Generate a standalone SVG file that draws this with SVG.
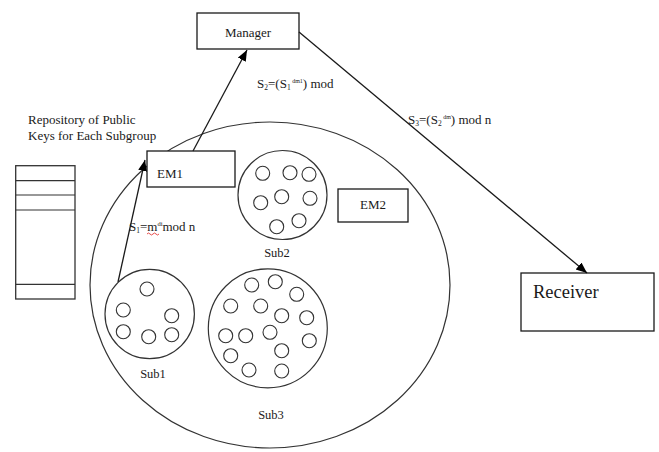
<svg xmlns="http://www.w3.org/2000/svg" width="659" height="452" viewBox="0 0 659 452">
<style>
.t{font-family:'Liberation Serif','DejaVu Serif','Times New Roman',serif;fill:#1a1a1a;}
.box{fill:#fff;stroke:#1a1a1a;stroke-width:1.3;}
.grp{fill:none;stroke:#333;stroke-width:1.2;}
.m{fill:none;stroke:#333;stroke-width:1.1;}
.ln{fill:none;stroke:#1a1a1a;stroke-width:1.3;}
</style>
<defs>
<marker id="ah" markerUnits="userSpaceOnUse" markerWidth="12" markerHeight="10" refX="11" refY="4.5" orient="auto">
<path d="M0,0 L11,4.5 L0,9 z" fill="#000"/>
</marker>
</defs>
<rect width="659" height="452" fill="#fff"/>

<g id="group-ellipse">
<ellipse class="grp" cx="270" cy="285" rx="180" ry="163"/>
</g>

<g id="repository">
<text class="t" font-family="Liberation Serif, serif" x="28" y="124" font-size="13">Repository of Public</text>
<text class="t" font-family="Liberation Serif, serif" x="28" y="140" font-size="13">Keys for Each Subgroup</text>
<rect x="15.7" y="165.7" width="59.3" height="133.3" fill="none" stroke="#333" stroke-width="1.3"/>
<line x1="15.7" y1="180.7" x2="75" y2="180.7" stroke="#333" stroke-width="1.2"/>
<line x1="15.7" y1="195" x2="75" y2="195" stroke="#333" stroke-width="1.2"/>
<line x1="15.7" y1="210" x2="75" y2="210" stroke="#333" stroke-width="1.2"/>
<line x1="15.7" y1="284.3" x2="75" y2="284.3" stroke="#333" stroke-width="1.2"/>
</g>

<g id="manager">
<rect class="box" x="197" y="13" width="102" height="36"/>
<text class="t" font-family="Liberation Serif, serif" x="248" y="37" font-size="13" text-anchor="middle">Manager</text>
</g>

<g id="em1">
<rect class="box" x="147" y="151" width="88" height="36"/>
<text class="t" font-family="Liberation Serif, serif" x="157" y="178" font-size="13">EM1</text>
</g>

<g id="em2">
<rect class="box" x="338" y="189" width="70" height="33"/>
<text class="t" font-family="Liberation Serif, serif" x="373" y="209" font-size="13" text-anchor="middle">EM2</text>
</g>

<g id="receiver">
<rect class="box" x="521" y="273" width="133" height="58"/>
<text class="t" font-family="Liberation Serif, serif" x="533" y="298" font-size="18.5">Receiver</text>
</g>

<g id="sub2">
<circle class="grp" cx="282.5" cy="195" r="44.5"/>
<circle class="m" cx="262.7" cy="173.3" r="7"/>
<circle class="m" cx="290" cy="172.7" r="7"/>
<circle class="m" cx="309" cy="174.3" r="7"/>
<circle class="m" cx="260.7" cy="202.7" r="7"/>
<circle class="m" cx="281.7" cy="196.7" r="7"/>
<circle class="m" cx="310" cy="198.3" r="7"/>
<circle class="m" cx="276.7" cy="226.7" r="7"/>
<circle class="m" cx="299" cy="220.7" r="7"/>
<text class="t" font-family="Liberation Serif, serif" x="277" y="257" font-size="12.5" text-anchor="middle">Sub2</text>
</g>

<g id="sub1">
<circle class="grp" cx="149.7" cy="314" r="44.7"/>
<circle class="m" cx="147" cy="289" r="7"/>
<circle class="m" cx="123.3" cy="310" r="7"/>
<circle class="m" cx="171.7" cy="315.7" r="7"/>
<circle class="m" cx="123.3" cy="331.7" r="7"/>
<circle class="m" cx="148.7" cy="336.7" r="7"/>
<circle class="m" cx="171.7" cy="334.7" r="7"/>
<text class="t" font-family="Liberation Serif, serif" x="153" y="378" font-size="12.5" text-anchor="middle">Sub1</text>
</g>

<g id="sub3">
<circle class="grp" cx="267.8" cy="328.3" r="59.5"/>
<circle class="m" cx="251.7" cy="285" r="7"/>
<circle class="m" cx="275.3" cy="281.7" r="7"/>
<circle class="m" cx="296.7" cy="294.3" r="7"/>
<circle class="m" cx="230.7" cy="306" r="7"/>
<circle class="m" cx="260.7" cy="306" r="7"/>
<circle class="m" cx="281.7" cy="315.7" r="7"/>
<circle class="m" cx="306.7" cy="317.7" r="7"/>
<circle class="m" cx="225.7" cy="335.7" r="7"/>
<circle class="m" cx="245.7" cy="335.7" r="7"/>
<circle class="m" cx="270" cy="332.3" r="7"/>
<circle class="m" cx="309.3" cy="340.7" r="7"/>
<circle class="m" cx="230.7" cy="355.7" r="7"/>
<circle class="m" cx="281.7" cy="350.7" r="7"/>
<circle class="m" cx="249" cy="370" r="7"/>
<circle class="m" cx="281.7" cy="371" r="7"/>
<text class="t" font-family="Liberation Serif, serif" x="271" y="419" font-size="12.5" text-anchor="middle">Sub3</text>
</g>

<g id="connectors">
<line class="ln" x1="118" y1="282" x2="145" y2="160" marker-end="url(#ah)"/>
<line class="ln" x1="193" y1="151" x2="247" y2="50" marker-end="url(#ah)"/>
<line class="ln" x1="299" y1="32" x2="587" y2="273" marker-end="url(#ah)"/>
</g>

<g id="labels">
<text class="t" font-family="Liberation Serif, serif" x="129" y="231" font-size="13">S<tspan font-size="7.5" dy="2">1</tspan><tspan dy="-2">=m</tspan><tspan font-size="6.5" dy="-5">di</tspan><tspan dy="5">mod n</tspan></text>
<path d="M147,234 q1.5,-2 3,0 t3,0 t3,0 t3,0" fill="none" stroke="#e02020" stroke-width="0.8"/>
<text class="t" font-family="Liberation Serif, serif" x="257" y="88" font-size="13">S<tspan font-size="7.5" dy="2">2</tspan><tspan dy="-2">=(S</tspan><tspan font-size="7.5" dy="2">1</tspan><tspan font-size="6" dy="-7"> dm1</tspan><tspan dy="5">) mod</tspan></text>
<text class="t" font-family="Liberation Serif, serif" x="408" y="124" font-size="13">S<tspan font-size="7.5" dy="2">3</tspan><tspan dy="-2">=(S</tspan><tspan font-size="7.5" dy="2">2</tspan><tspan font-size="6" dy="-7"> dm</tspan><tspan dy="5">) mod n</tspan></text>
</g>
</svg>
